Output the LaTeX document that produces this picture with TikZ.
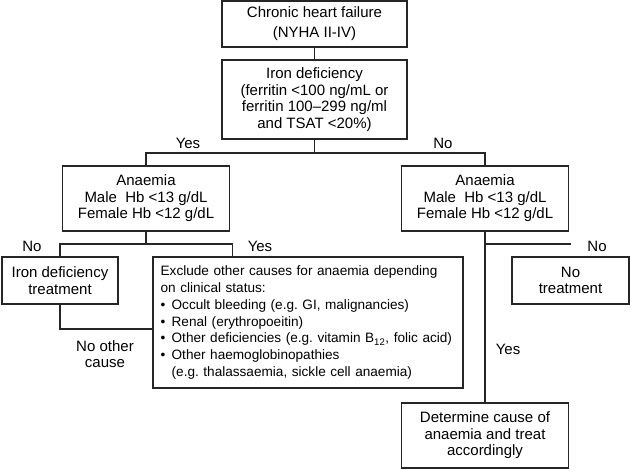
\documentclass[tikz,border=0pt]{standalone}
\usepackage{fontspec}
\setmainfont{Liberation Sans}
\usetikzlibrary{calc}
\frenchspacing
\newcommand{\mainsize}{\fontsize{11.25}{12.4}\selectfont}
\newcommand{\smallsize}{\fontsize{10.2}{12.7}\selectfont}
\newcommand{\bul}{\makebox[8.25pt][l]{\textbullet}}
\tikzset{box/.style={draw=black!85, line width=1.1pt, align=center, inner sep=0pt, font=\mainsize},
	link/.style={draw=black!85, line width=1.1pt},
	lbl/.style={inner sep=0pt, align=center, font=\mainsize}}

\begin{document}
\begin{tikzpicture}[x=0.75pt, y=-0.75pt]
		\useasboundingbox (0,0) rectangle (631,469);
		\node[box, minimum width=138.75pt, minimum height=34.5pt] (chf) at (314.5,24) {Chronic heart failure\\[2.6pt](NYHA II-IV)};
		\node[box, minimum width=138.75pt, minimum height=59.25pt] (iron) at (314.5,99.5) {Iron deficiency\\(ferritin <100 ng/mL or\\ferritin 100--299 ng/ml\\and TSAT <20\%)};
		
		\node[box, minimum width=125.25pt, minimum height=48.75pt] (anL) at (146,198.5) {Anaemia\\Male\ \ Hb <13 g/dL\\Female Hb <12 g/dL};
		\node[box, minimum width=125.25pt, minimum height=48.75pt] (anR) at (485,198.5) {Anaemia\\Male\ \ Hb <13 g/dL\\Female Hb <12 g/dL};
		
		\node[box, minimum width=87pt, minimum height=35.25pt] (treat) at (60,280.5) {Iron deficiency\\treatment};
		\node[box, align=left, text width=221pt, inner xsep=5.75pt, minimum height=98.25pt, font=\smallsize] (excl) at (308,322.5) {Exclude other causes for anaemia depending\\on clinical status:\\\bul Occult bleeding (e.g. GI, malignancies)\\\bul Renal (erythropoeitin)\\\bul Other deficiencies (e.g. vitamin B\textsubscript{12}, folic acid)\\\bul Other haemoglobinopathies\\\hspace*{8.25pt}(e.g. thalassaemia, sickle cell anaemia)};
		\node[box, minimum width=87.75pt, minimum height=35.25pt] (notreat) at (570.5,280.5) {No\\treatment};
		\node[box, minimum width=125.25pt, minimum height=48.75pt] (det) at (485,435.5) {Determine cause of\\anaemia and treat\\accordingly};
		
		\coordinate (s1) at (314.5,153);
		\coordinate (s2) at (146,244);
		\coordinate (s3) at (485,244);
		\coordinate (noend) at (571,244);
		
		\draw[link] (chf) -- (iron);
		\draw[link] (iron) -- (s1);
		\draw[link] (anL.north) |- (s1) -| (anR.north);
		\draw[link] (anL) -- (s2);
		\draw[link] (treat.north) |- (s2) -| ([xshift=60pt]excl.north west);
		\draw[link] (treat.south) |- ([yshift=-4.9pt]excl.west);
		\draw[link] (anR) -- (det);
		\draw[link] (s3) -- (noend);
		
		\node[lbl] (yes1) at (188,143) {Yes};
		\node[lbl] (no1) at (443,143) {No};
		\node[lbl] (no2) at (32,246) {No};
		\node[lbl] (yes2) at (260,246) {Yes};
		\node[lbl] (no3) at (597,246) {No};
		\node[lbl] (yes3) at (508,349) {Yes};
		\node[lbl] (other) at (105,354) {No other\\cause};
	\end{tikzpicture}
\end{document}
